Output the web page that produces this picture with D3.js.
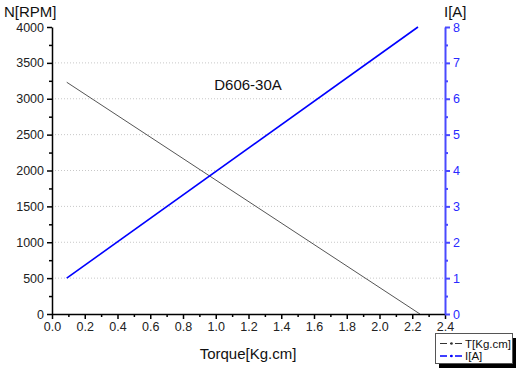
<!DOCTYPE html>
<html><head><meta charset="utf-8">
<script src="https://cdn.jsdelivr.net/npm/d3@7"></script>
<style>body{margin:0;background:#fff}svg{display:block}text{font-family:"Liberation Sans",Arial,sans-serif}</style>
</head><body><svg id="c" width="523" height="375"></svg>
<script>
const torqueT = [0.09, 2.247];
const speedN = [3230, 0];
const torqueI = [0.09, 2.235];
const currentI = [1.0, 8.0];
const xTicks = [0,0.2,0.4,0.6,0.8,1.0,1.2,1.4,1.6,1.8,2.0,2.2,2.4];
const yLeftTicks = [0,500,1000,1500,2000,2500,3000,3500,4000];
const yRightTicks = [0,1,2,3,4,5,6,7,8];
const gridTicks = [500,1000,1500,2000,2500,3000,3500];
const legendLabels = ["T[Kg.cm]","I[A]"];

const svg = d3.select("#c");
const L=52, R=445, T=27, B=314;
const x = d3.scaleLinear().domain([0,2.4]).range([L,R]);
const yL = d3.scaleLinear().domain([0,4000]).range([B,T]);
const yR = d3.scaleLinear().domain([0,8]).range([B,T]);
const blueAx = "#4a4aff";

// grid
svg.append("g").selectAll("line").data(gridTicks).join("line")
 .attr("x1",L).attr("x2",R).attr("y1",d=>yL(d)).attr("y2",d=>yL(d))
 .attr("stroke","#c8c8c8").attr("stroke-dasharray","1,2").attr("stroke-width",1);

// lines
const lt = d3.line().x(d=>x(d[0])).y(d=>yL(d[1]));
svg.append("path").attr("d", lt(torqueT.map((t,i)=>[t,speedN[i]])))
 .attr("stroke","#555").attr("stroke-width",1).attr("fill","none");
const li = d3.line().x(d=>x(d[0])).y(d=>yR(d[1]));
svg.append("path").attr("d", li(torqueI.map((t,i)=>[t,currentI[i]])))
 .attr("stroke","#0000ff").attr("stroke-width",1.6).attr("fill","none");

function minor(ticks){const r=[];for(let i=0;i<ticks.length-1;i++)r.push((ticks[i]+ticks[i+1])/2);return r;}
const FS=12.5;
// x axis
const gx = svg.append("g").attr("transform",`translate(0,${B})`);
gx.call(d3.axisBottom(x).tickValues(xTicks).tickFormat(d3.format(".1f")).tickSize(5).tickSizeOuter(0).tickPadding(3));
gx.append("g").call(d3.axisBottom(x).tickValues(minor(xTicks)).tickFormat("").tickSize(3).tickSizeOuter(0)).select(".domain").remove();
gx.selectAll("text").attr("font-size",FS).attr("fill","#222").attr("font-family","Liberation Sans, Arial, sans-serif");
gx.selectAll("line,path").attr("stroke","#000").attr("stroke-width",1.5);

// left axis
const gy = svg.append("g").attr("transform",`translate(${L},0)`);
gy.call(d3.axisLeft(yL).tickValues(yLeftTicks).tickFormat(d3.format("d")).tickSize(5).tickSizeOuter(0).tickPadding(3));
gy.append("g").call(d3.axisLeft(yL).tickValues(minor(yLeftTicks)).tickFormat("").tickSize(3).tickSizeOuter(0)).select(".domain").remove();
gy.selectAll("text").attr("font-size",FS).attr("fill","#222").attr("font-family","Liberation Sans, Arial, sans-serif");
gy.selectAll("line,path").attr("stroke","#000").attr("stroke-width",1.5);

// right axis
const gr = svg.append("g").attr("transform",`translate(${R},0)`);
gr.call(d3.axisRight(yR).tickValues(yRightTicks).tickFormat(d3.format("d")).tickSize(5).tickSizeOuter(0).tickPadding(3));
gr.append("g").call(d3.axisRight(yR).tickValues(minor(yRightTicks)).tickFormat("").tickSize(3).tickSizeOuter(0)).select(".domain").remove();
gr.selectAll("text").attr("font-size",FS).attr("fill","#2a2aff").attr("font-family","Liberation Sans, Arial, sans-serif");
gr.selectAll("line,path").attr("stroke",blueAx).attr("stroke-width",2);

// titles
svg.append("text").attr("x",4).attr("y",17).attr("font-size",15).attr("fill","#111").text("N[RPM]");
svg.append("text").attr("x",444).attr("y",17).attr("font-size",15).attr("fill","#111").text("I[A]");
svg.append("text").attr("x",248).attr("y",359).attr("text-anchor","middle").attr("font-size",15).attr("fill","#111").text("Torque[Kg.cm]");
svg.append("text").attr("x",248).attr("y",90).attr("text-anchor","middle").attr("font-size",15).attr("fill","#111").text("D606-30A");

// legend
const lg = svg.append("g");
lg.append("rect").attr("x",439).attr("y",338).attr("width",77).attr("height",30).attr("fill","#000");
lg.append("rect").attr("x",435.5).attr("y",333.5).attr("width",77).attr("height",30).attr("fill","#fff").attr("stroke","#555").attr("stroke-width",1);
const cols=["#333","#0000ff"];
legendLabels.forEach((t,i)=>{
  const yy=343.5+i*12.5;
  lg.append("line").attr("x1",440).attr("x2",463).attr("y1",yy).attr("y2",yy).attr("stroke",cols[i]).attr("stroke-width",i?1.5:1).attr("stroke-dasharray","7,3,2,3");
  lg.append("circle").attr("cx",451.5).attr("cy",yy).attr("r",1.3).attr("fill",cols[i]);
  lg.append("text").attr("x",465).attr("y",yy+4.2).attr("font-size",11.5).attr("fill","#111").text(t);
});
</script></body></html>
